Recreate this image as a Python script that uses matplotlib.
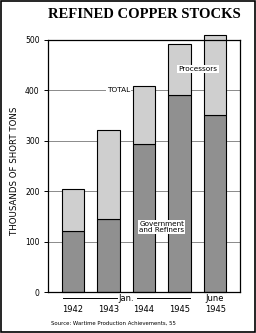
import matplotlib
matplotlib.use("Agg")
import matplotlib.pyplot as plt
from matplotlib.patches import Rectangle
from matplotlib.lines import Line2D

years = ["1942", "1943", "1944", "1945", "1945"]
government = [122, 145, 293, 391, 352]
total = [204, 322, 408, 492, 510]
processors = [t - g for t, g in zip(total, government)]
yticks = [0, 100, 200, 300, 400, 500]

fig = plt.figure(figsize=(2.56, 3.33), dpi=100)
fig.patches.append(Rectangle((0.004, 0.004), 0.992, 0.992, transform=fig.transFigure,
                             fill=False, edgecolor="black", linewidth=1.2))
ax = fig.add_axes([0.1875, 0.123, 0.75, 0.757])
x = list(range(len(years)))
ax.set_axisbelow(True)
ax.yaxis.grid(True, color="#777777", linewidth=0.6)
ax.bar(x, government, width=0.64, color="#909090", edgecolor="black", linewidth=0.8, clip_on=False, zorder=2)
ax.bar(x, processors, bottom=government, width=0.64, color="#cfcfcf", edgecolor="black", linewidth=0.8, clip_on=False, zorder=2)
ax.set_xlim(-0.7, 4.7)
ax.set_ylim(0, 500)
ax.set_yticks(yticks)
ax.set_yticklabels([str(v) for v in yticks], fontsize=5.5)
ax.tick_params(axis="y", length=3, width=0.7, pad=3)
ax.set_xticks(x)
ax.set_xticklabels(years, fontsize=6)
ax.tick_params(axis="x", length=0, pad=9)
for s in ax.spines.values():
    s.set_linewidth(0.9)
ax.set_ylabel("THOUSANDS OF SHORT TONS", fontsize=6.2)
ax.yaxis.set_label_coords(-0.15, 0.48)

bb = dict(facecolor="white", edgecolor="none", pad=0.8)
ax.text(1.28, 400, "TOTAL", fontsize=5.3, ha="center", va="center", bbox=bb, zorder=3)
ax.text(3.52, 442, "Processors", fontsize=5.3, ha="center", va="center", bbox=bb, zorder=3)
ax.text(2.5, 129, "Government\nand Refiners", fontsize=5.2, ha="center", va="center",
        linespacing=1.0, bbox=bb, zorder=3)

# Jan. bracket
ax.text(1.5, -13, "Jan.", fontsize=6, ha="center", va="center", clip_on=False)
ax.add_line(Line2D([-0.28, 1.23], [-12, -12], color="black", linewidth=0.7, clip_on=False))
ax.add_line(Line2D([1.80, 3.30], [-12, -12], color="black", linewidth=0.7, clip_on=False))
ax.text(4, -13, "June", fontsize=6, ha="center", va="center", clip_on=False)

fig.text(0.565, 0.955, "REFINED COPPER STOCKS", fontsize=10.5, fontweight="bold",
         family="Liberation Serif", ha="center", va="center")
fig.text(0.2, 0.03, "Source: Wartime Production Achievements, 55", fontsize=3.9,
         ha="left", va="center")

fig.savefig("out.png", dpi=100)
